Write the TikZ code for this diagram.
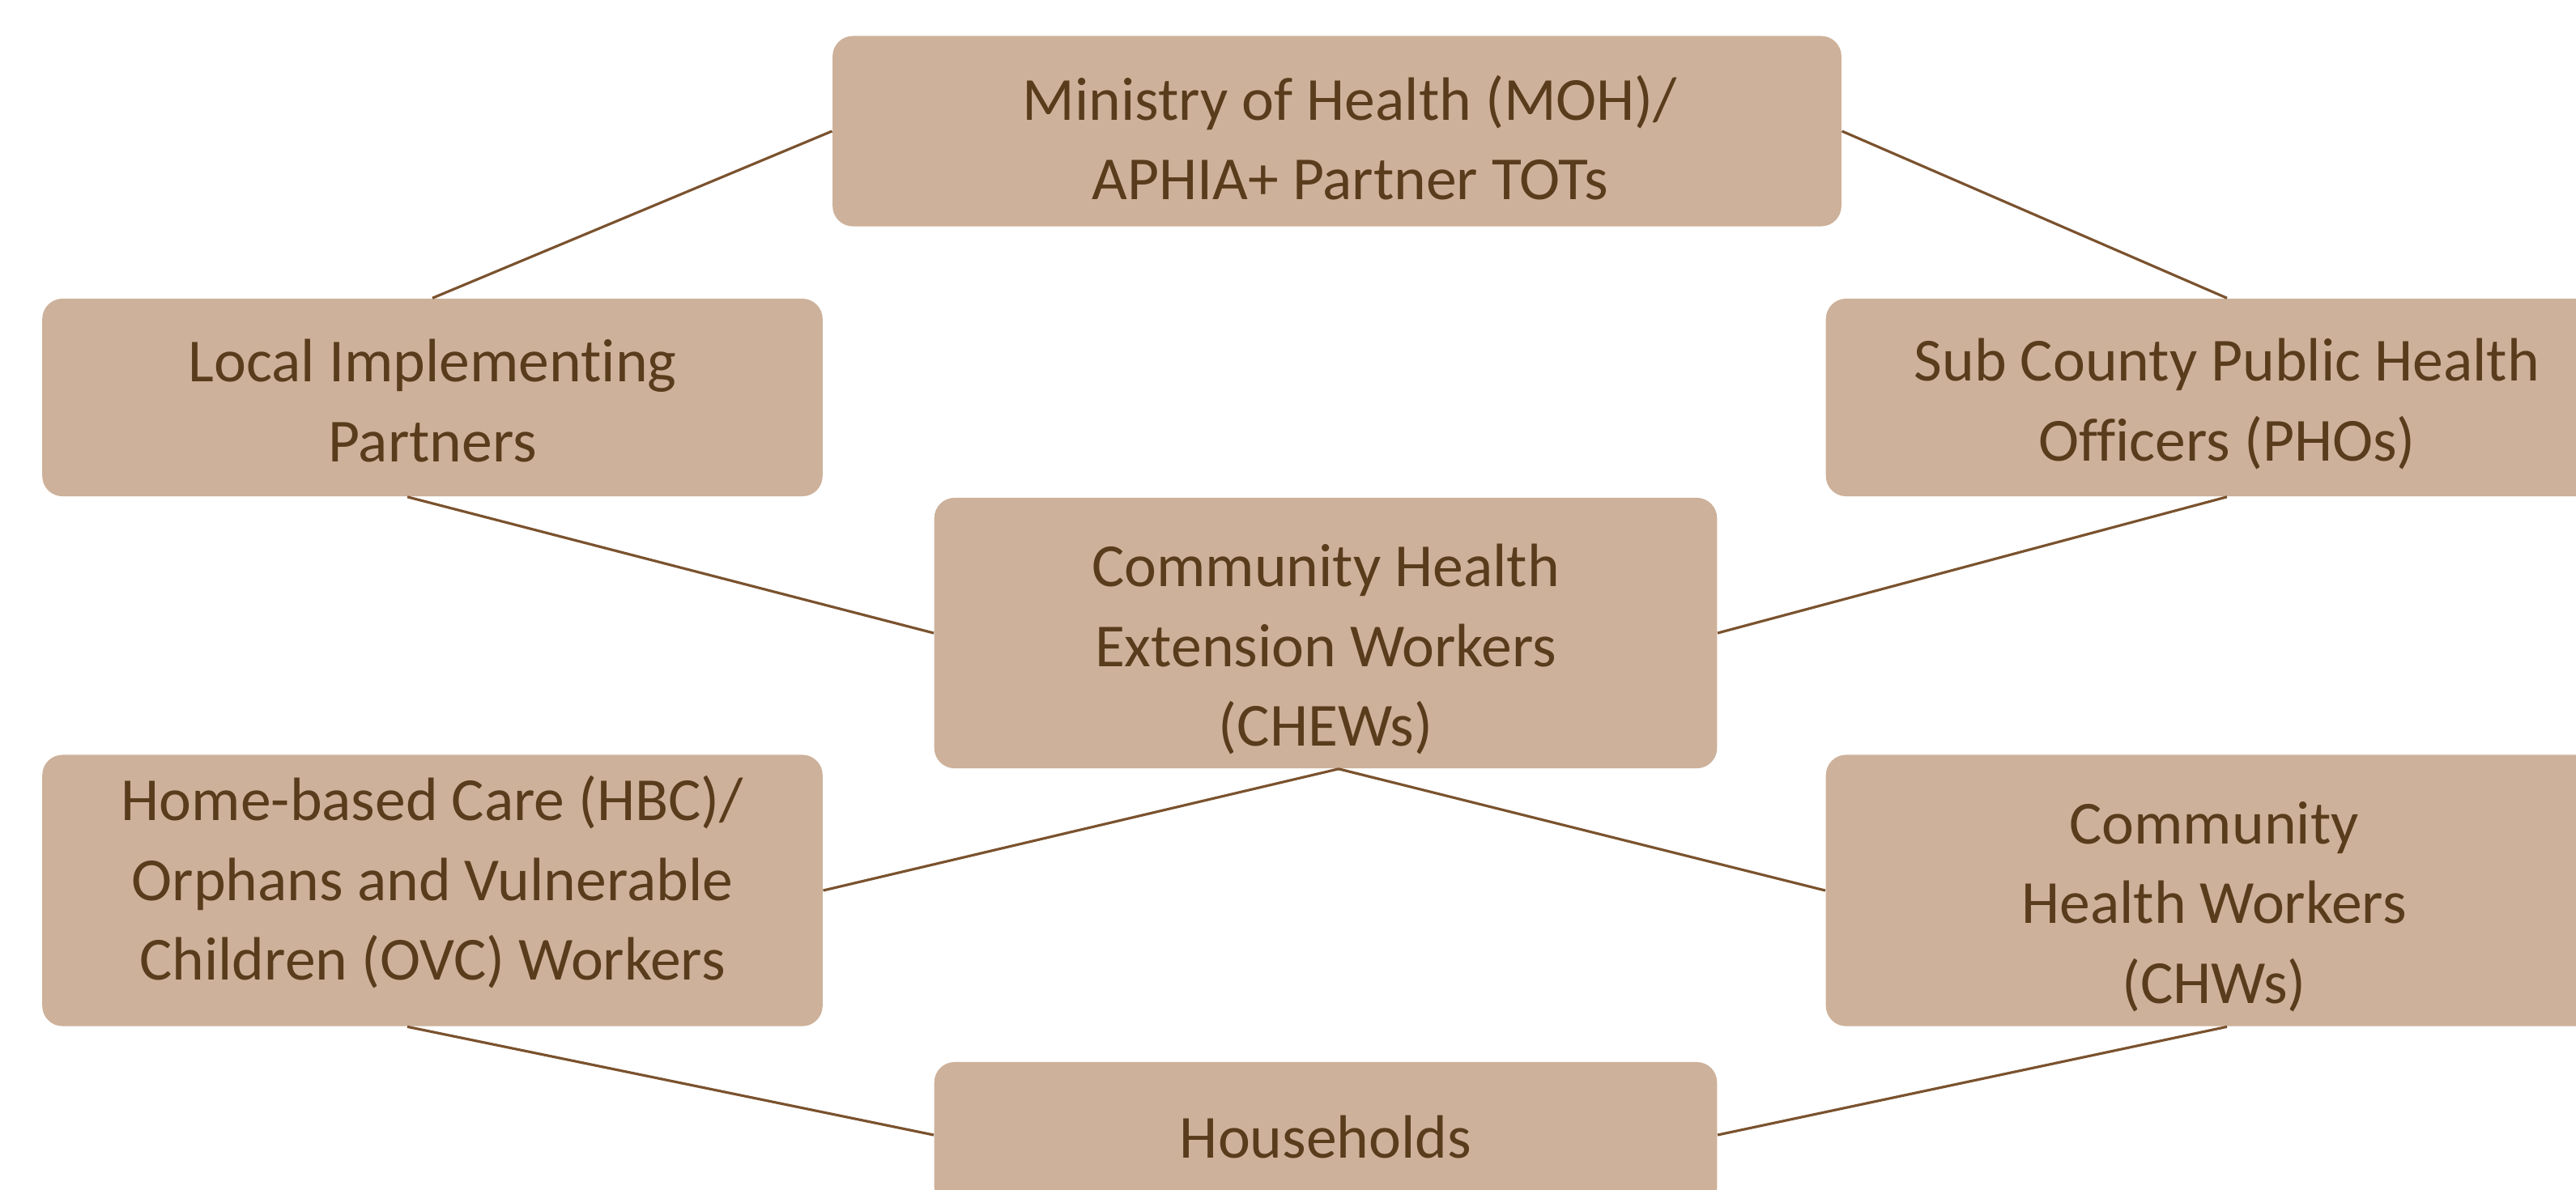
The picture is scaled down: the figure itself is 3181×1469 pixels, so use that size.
\documentclass[tikz,border=0pt]{standalone}
\usepackage{fontspec}
\setmainfont{Carlito}[Ligatures={NoCommon}]
\definecolor{boxfill}{RGB}{205,177,154}
\definecolor{boxtext}{RGB}{88,60,28}
\definecolor{linkcol}{RGB}{122,82,46}
\begin{document}
\begin{tikzpicture}[x=0.01cm,y=-0.01cm,
  card/.style={rectangle, rounded corners=0.25cm, fill=boxfill, draw=none,
    inner sep=0pt},
  caption/.style={text=boxtext, align=center, inner sep=0pt,
    font=\fontsize{21.5}{28}\selectfont},
  link/.style={draw=linkcol, line width=0.9pt}]
  \useasboundingbox (0,0) rectangle (3181,1469);
  \fill[white] (0,0) rectangle (3181,1469);

  % boxes; each caption sits at the box centre, nudged where needed
  \node[card, minimum width=12.45cm, minimum height=2.35cm,
    label={[caption, xshift=0.16cm, yshift=-0.08cm]center:{Ministry of Health (MOH)/\\APHIA+ Partner TOTs}}] (moh) at (1651,162) {};
  \node[card, minimum width=9.63cm, minimum height=2.44cm,
    label={[caption, yshift=-0.04cm]center:{Local Implementing\\Partners}}] (lip) at (534,491) {};
  \node[card, minimum width=9.9cm, minimum height=2.44cm,
    label={[caption, yshift=-0.08cm]center:{Sub County Public Health\\Officers (PHOs)}}] (pho) at (2750,491) {};
  \node[card, minimum width=9.66cm, minimum height=3.34cm,
    label={[caption, yshift=-0.2cm]center:{Community Health\\Extension Workers\\(CHEWs)}}] (chew) at (1637,782) {};
  \node[card, minimum width=9.63cm, minimum height=3.35cm,
    label={[caption, yshift=0.1cm]center:{Home-based Care (HBC)/\\Orphans and Vulnerable\\Children (OVC) Workers}}] (hbc) at (534,1100) {};
  \node[card, minimum width=9.9cm, minimum height=3.35cm,
    label={[caption, xshift=-0.16cm, yshift=-0.2cm]center:{Community\\Health Workers\\(CHWs)}}] (chw) at (2750,1100) {};
  \node[card, minimum width=9.66cm, minimum height=1.8cm,
    label={[caption, yshift=-0.03cm]center:{Households}}] (hh) at (1637,1402) {};

  % connectors between the boxes
  \draw[link] (moh.west) -- (lip.north);
  \draw[link] (moh.east) -- (pho.north);
  \draw[link] ([xshift=-0.31cm]lip.south) -- (chew.west);
  \draw[link] (pho.south) -- (chew.east);
  \draw[link] ([xshift=0.16cm]chew.south) -- (hbc.east);
  \draw[link] ([xshift=0.16cm]chew.south) -- (chw.west);
  \draw[link] ([xshift=-0.31cm]hbc.south) -- (hh.west);
  \draw[link] (chw.south) -- (hh.east);
\end{tikzpicture}
\end{document}
